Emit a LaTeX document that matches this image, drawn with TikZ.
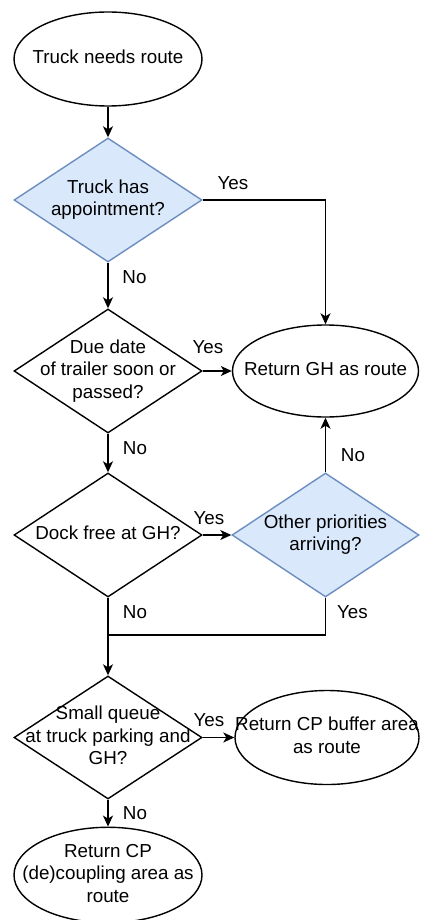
\documentclass[tikz,border=0pt]{standalone}
\usepackage{fontspec}
\setmainfont{Liberation Sans}
\usetikzlibrary{shapes.geometric,arrows.meta}
\definecolor{decfill}{HTML}{DAE8FC}
\definecolor{decdraw}{HTML}{6C8EBF}
% centred multi-line text that does not widen its shape
\newcommand{\ctr}[1]{\makebox[0pt]{\begin{tabular}{@{}c@{}}#1\end{tabular}}}
\begin{document}
\begin{tikzpicture}[x=1pt,y=-1pt,line width=1.4pt,
  font=\fontsize{18.8}{22.5}\selectfont,
  term/.style={ellipse,draw,fill=white,inner sep=0pt},
  decision/.style={diamond,draw,fill=white,inner sep=0pt,minimum width=188pt,minimum height=124pt},
  query/.style={decision,fill=decfill,draw=decdraw},
  flow/.style={-{Stealth[length=11pt,width=10pt,inset=3pt]}},
  tag/.style={inner sep=0pt}]
\useasboundingbox (0,0) rectangle (420,920);

% shapes
\node[term,minimum width=188pt,minimum height=94pt] (start) at (108,59) {\ctr{Truck needs route}};
\node[query] (appt) at (108,200) {\ctr{Truck has\\appointment?}};
\node[decision] (due) at (108,371) {\ctr{Due date\\of trailer soon or\\passed?}};
\node[term,minimum width=186pt,minimum height=92pt] (gh) at (325.5,371) {\ctr{Return GH as route}};
\node[decision] (dock) at (108,535) {\ctr{Dock free at GH?}};
\node[query,minimum width=187pt] (prio) at (325.5,535) {\ctr{Other priorities\\arriving?}};
\node[decision,minimum height=123pt] (queue) at (108,737.5) {\ctr{Small queue\\at truck parking and\\GH?}};
\node[term,minimum width=184pt,minimum height=94pt] (buffer) at (327,737.5) {\ctr{Return CP buffer area\\as route}};
\node[term,minimum width=188pt,minimum height=90pt] (couple) at (108,875) {\ctr{Return CP\\(de)coupling area as\\route}};
\coordinate (merge) at (108,635);

% connectors
\draw[flow] (start.south) -- (appt.north);
\draw[flow] (appt.east) -| (gh.north);
\draw[flow] (appt.south) -- (due.north);
\draw[flow] (due.east) -- (gh.west);
\draw[flow] (due.south) -- (dock.north);
\draw[flow] (dock.east) -- (prio.west);
\draw[flow] (prio.north) -- (gh.south);
\draw (prio.south) |- (merge);
\draw[flow] (dock.south) -- (queue.north);
\draw[flow] (queue.east) -- (buffer.west);
\draw[flow] (queue.south) -- (couple.north);

% branch labels
\node[tag] at (233,183) {Yes};
\node[tag] at (134.5,277) {No};
\node[tag] at (208,347) {Yes};
\node[tag] at (135,448) {No};
\node[tag] at (209,518) {Yes};
\node[tag] at (353,455) {No};
\node[tag] at (135,612) {No};
\node[tag] at (352.5,612) {Yes};
\node[tag] at (209,720) {Yes};
\node[tag] at (135,813) {No};
\end{tikzpicture}
\end{document}
